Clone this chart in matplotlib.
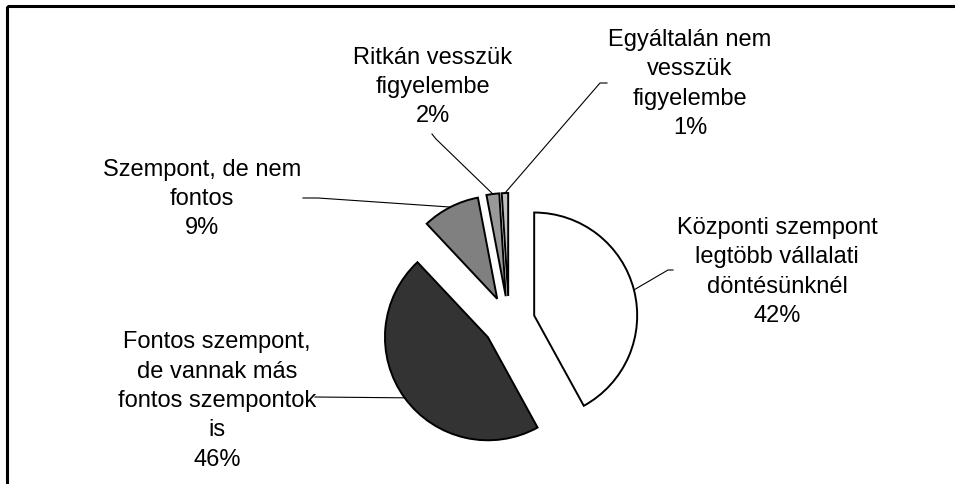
import matplotlib.pyplot as plt
import numpy as np
from matplotlib.patches import Rectangle

plt.rcParams['font.family'] = ['Liberation Sans', 'DejaVu Sans']

labels = ["Központi szempont\nlegtöbb vállalati\ndöntésünknél",
          "Fontos szempont,\nde vannak más\nfontos szempontok\nis",
          "Szempont, de nem\nfontos",
          "Ritkán vesszük\nfigyelembe",
          "Egyáltalán nem\nvesszük\nfigyelembe"]
values = [42, 46, 9, 2, 1]
colors = ["#ffffff", "#333333", "#808080", "#999999", "#c0c0c0"]

# label text centres and where the leader line meets the label (pixels, y down)
text_pos = [(777, 272), (217, 401), (202, 199), (433, 87), (690, 84)]
line_end = [[(673, 271), (668, 271)], [(315, 398)], [(303, 199), (318, 199)],
            [(432, 135), (436, 140)], [(607, 84), (600, 84)]]

fig = plt.figure(figsize=(9.55, 4.85), dpi=100)
ax = fig.add_axes([0, 0, 1, 1])

# explode is in data units here (pixels)
wedges, _ = ax.pie(values, colors=colors, center=(509, 323), radius=103,
                   startangle=270, counterclock=True, explode=[26] * 5,
                   wedgeprops=dict(edgecolor="black", linewidth=1.4))
ax.set_xlim(0, 955)
ax.set_ylim(485, 0)
ax.set_aspect("auto")
ax.axis("off")

for w, lab, v, tp, le in zip(wedges, labels, values, text_pos, line_end):
    mid = np.deg2rad((w.theta1 + w.theta2) / 2)
    cx, cy = w.center
    ax_pt = (cx + w.r * np.cos(mid), cy + w.r * np.sin(mid))
    pts = le + [ax_pt]
    ax.plot([p[0] for p in pts], [p[1] for p in pts], color="black", lw=0.8)
    ax.text(tp[0], tp[1], f"{lab}\n{v}%", ha="center", va="center",
            fontsize=17, linespacing=1.44)

ax.add_patch(Rectangle((7, 7), 980, 520, fill=False, edgecolor="black", lw=2.2,
                       clip_on=False))

fig.savefig("out.png", dpi=100)
